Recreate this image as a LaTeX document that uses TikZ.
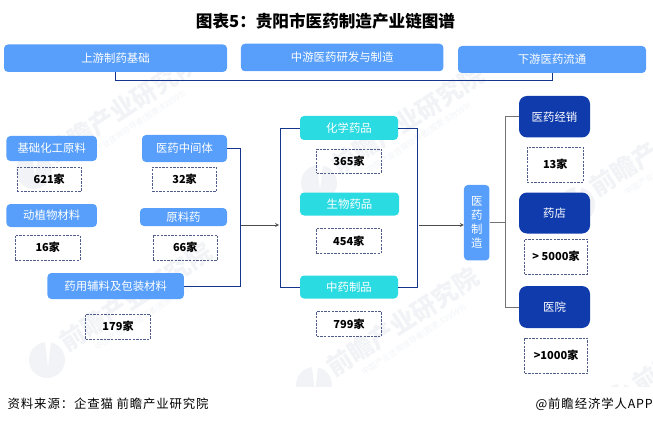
\documentclass[tikz,border=0pt]{standalone}
\usepackage{fontspec}
\setmainfont{Noto Sans CJK SC}
\newfontfamily\spaced[LetterSpace=7]{Noto Sans CJK SC}
\usepackage{xcolor}
\usetikzlibrary{arrows, positioning}
\definecolor{boxblue}{HTML}{589FFB}
\definecolor{boxteal}{HTML}{2BDBE2}
\definecolor{boxnavy}{HTML}{0F3BAC}
\definecolor{linenavy}{HTML}{16358C}
\definecolor{dashblue}{HTML}{4F5C8C}
\definecolor{markgray}{HTML}{F1F3F6}

\begin{document}
\begin{tikzpicture}[x=1pt, y=-1pt, node distance=30pt, font=\fontsize{11.4}{14}\selectfont]
    \tikzstyle{stage} = [rectangle, rounded corners=4pt, fill=boxblue, text=white, inner sep=0pt]
    \tikzstyle{drug} = [stage, fill=boxteal]
    \tikzstyle{outlet} = [stage, rounded corners=8pt, fill=boxnavy, minimum width=71pt]
    \tikzstyle{count} = [rectangle, draw=dashblue, dash pattern=on 2.4pt off 1.2pt, line width=0.8pt, minimum width=64.5pt, minimum height=24pt, inner sep=0pt, font=\fontsize{11}{13}\selectfont\bfseries]
    \tikzstyle{link} = [linenavy, line width=0.9pt]
    \tikzstyle{grayline} = [black!55, line width=0.9pt]
    \tikzstyle{arrow} = [black!70, line width=0.7pt, ->, >=stealth]
    \tikzstyle{marktext} = [markgray, rotate=33, inner sep=0pt, font=\fontsize{25}{25}\selectfont\bfseries]
    \tikzstyle{marksub} = [markgray, rotate=33, inner sep=0pt, font=\fontsize{8}{8}\selectfont]

    \useasboundingbox (0,0) rectangle (653,425);

    % watermark
    \begin{scope}
        \clip (0,0) rectangle (653,386);
        \foreach \mx/\my/\mname in {123/108/a, 408/120/b, 666/142/c, 136/297/d, 403/322/e, 709/339/f} {
            \node (mark\mname) [marktext] at (\mx,\my) {前瞻产业研究院};
            \node (sub\mname) [marksub] at (\mx+11,\my+18) {中国产业咨询领导者(股票:839599)};
            \fill [markgray] (\mx-89,\my+63) circle (18);
            \fill [white] (\mx-91,\my+45) -- (\mx-85,\my+45) -- (\mx-88,\my+70) -- cycle;
        }
    \end{scope}

    \node (title) at (325.5,21) {\fontsize{16.6}{18}\selectfont\bfseries 图表5：贵阳市医药制造产业链图谱};

    % top row
    \node (up) [stage, minimum width=223pt, minimum height=27.5pt] at (115.5,58.2) {上游制药基础};
    \node (mid) [stage, minimum width=202.5pt, minimum height=27.5pt] at (342.2,57.5) {中游医药研发与制造};
    \node (down) [stage, minimum width=188pt, minimum height=27pt] at (552,59.5) {下游医药流通};

    % upstream
    \node (basic) [stage, minimum width=90.5pt, minimum height=25pt] at (51.7,148.5) {基础化工原料};
    \node (inter) [stage, minimum width=85pt, minimum height=27pt] at (184.5,148.5) {医药中间体};
    \node (herb) [stage, minimum width=90.5pt, minimum height=23pt] at (51.7,215.5) {动植物材料};
    \node (api) [stage, minimum width=87pt, minimum height=18pt] at (183.5,217) {原料药};
    \node (excip) [stage, minimum width=136.5pt, minimum height=26pt] at (115.7,286) {药用辅料及包装材料};
    \node (nbasic) [count, below of=basic, node distance=30.5pt, xshift=-2.5pt] {621家};
    \node (ninter) [count, below of=inter, node distance=30.7pt] {32家};
    \node (nherb) [count, below of=herb, node distance=32pt, xshift=-4pt, minimum height=25pt] {16家};
    \node (napi) [count, below of=api, node distance=30.5pt, xshift=1.7pt, minimum height=25pt] {66家};
    \node (nexcip) [count, below of=excip, node distance=40.5pt, xshift=2.3pt, minimum height=25pt] {179家};

    % midstream
    \node (chem) [drug, minimum width=98pt, minimum height=24pt] at (349,128) {化学药品};
    \node (bio) [drug, minimum width=99pt, minimum height=23pt] at (349.5,204) {生物药品};
    \node (tcm) [drug, minimum width=98pt, minimum height=23pt] at (349,287) {中药制品};
    \node (nchem) [count, below of=chem, node distance=33pt] {365家};
    \node (nbio) [count, below of=bio, node distance=37pt, xshift=-0.8pt, minimum height=25pt] {454家};
    \node (ntcm) [count, below of=tcm, node distance=37pt, minimum height=25pt] {799家};

    % downstream
    \node (make) [stage, minimum width=25.5pt, minimum height=75.5pt, align=center] at (476.7,222.7) {医\\药\\制\\造};
    \node (sale) [outlet, minimum height=41.5pt] at (554.5,116.7) {医药经销};
    \node (shop) [outlet, minimum height=41pt] at (554.5,213) {药店};
    \node (hosp) [outlet, minimum height=42pt] at (554.5,307) {医院};
    \node (nsale) [count, below of=sale, node distance=47.8pt, xshift=0.7pt, minimum width=56.5pt, minimum height=35pt] {13家};
    \node (nshop) [count, below of=shop, node distance=43.5pt, xshift=1.5pt, minimum width=63pt, minimum height=35pt] {> 5000家};
    \node (nhosp) [count, below of=hosp, node distance=48.7pt, xshift=1.5pt, minimum width=63pt, minimum height=35.5pt] {>1000家};

    \node (source) [anchor=west, inner sep=0pt] at (7.5,404) {\fontsize{12.4}{14}\selectfont\spaced 资料来源：企查猫 前瞻产业研究院};
    \node (brand) [anchor=east, inner sep=0pt] at (653,404) {\fontsize{12.4}{14}\selectfont\spaced @前瞻经济学人APP};

    \coordinate (leftout) at (240.5,225);
    \coordinate (midin) at (281,225);
    \coordinate (midout) at (417.5,225);
    \coordinate (join) at (505.5,222.7);

    \draw [link] (up.south) -- ++(0,8.3) -| (down.south);
    \draw [link] (inter.east) -- ++(13.5,0) |- (excip.east);
    \draw [arrow, shorten >=2pt] (leftout) -- (midin);
    \draw [link] (chem.west) -- ++(-19,0) |- (tcm.west);
    \draw [link] (chem.east) -- ++(19.5,0) |- (tcm.east);
    \draw [arrow] (midout) ++(1.5,0) -- (midout -| make.west);
    \draw [grayline] (make.east) -- (join);
    \draw [grayline] (sale.west) -- ++(-13.5,0) |- (hosp.west);
\end{tikzpicture}
\end{document}
